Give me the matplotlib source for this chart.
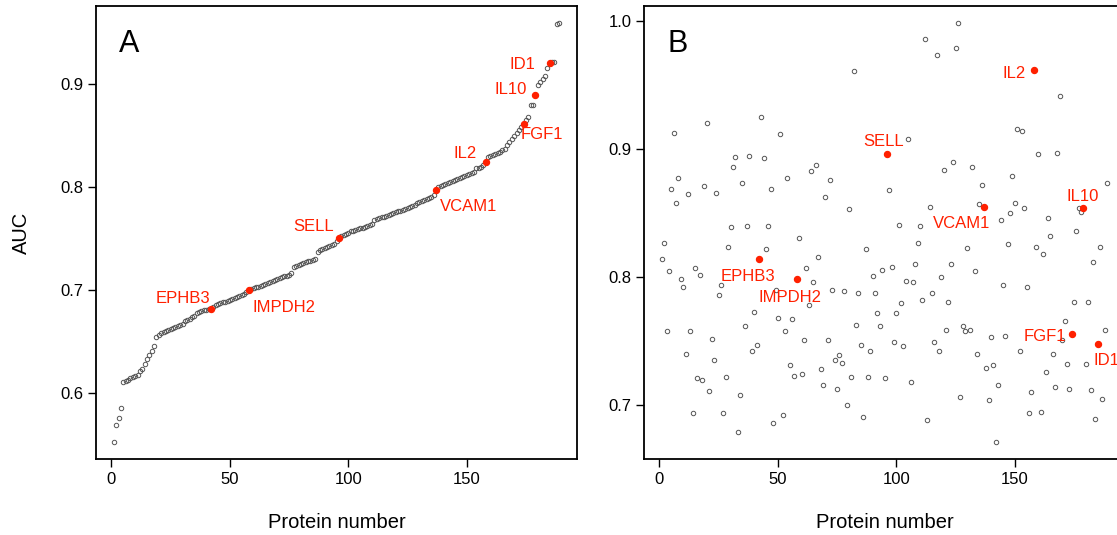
import matplotlib
matplotlib.use("Agg")
import matplotlib.pyplot as plt
import numpy as np

# AUC per protein, panel A sorted (rank order), panel B same proteins in the same order
auc_a = [
    0.552, 0.569, 0.576, 0.585, 0.611, 0.612, 0.613, 0.614, 0.615, 0.616,
    0.617, 0.621, 0.623, 0.628, 0.633, 0.637, 0.641, 0.646, 0.654, 0.656,
    0.658, 0.659, 0.660, 0.661, 0.662, 0.663, 0.664, 0.665, 0.666, 0.667,
    0.670, 0.671, 0.672, 0.674, 0.675, 0.678, 0.679, 0.680, 0.681, 0.681,
    0.682, 0.682, 0.684, 0.685, 0.686, 0.687, 0.688, 0.688, 0.689, 0.690,
    0.691, 0.692, 0.693, 0.694, 0.695, 0.696, 0.698, 0.700, 0.701, 0.702,
    0.703, 0.703, 0.704, 0.705, 0.706, 0.707, 0.708, 0.709, 0.710, 0.711,
    0.712, 0.713, 0.714, 0.714, 0.715, 0.717, 0.722, 0.723, 0.724, 0.725,
    0.726, 0.727, 0.728, 0.728, 0.729, 0.730, 0.737, 0.739, 0.740, 0.741,
    0.742, 0.743, 0.744, 0.745, 0.748, 0.751, 0.753, 0.754, 0.755, 0.756,
    0.757, 0.757, 0.758, 0.759, 0.760, 0.760, 0.761, 0.762, 0.763, 0.764,
    0.768, 0.769, 0.770, 0.771, 0.771, 0.772, 0.773, 0.774, 0.775, 0.776,
    0.777, 0.777, 0.778, 0.779, 0.780, 0.781, 0.782, 0.783, 0.785, 0.786,
    0.787, 0.788, 0.789, 0.790, 0.791, 0.792, 0.797, 0.800, 0.801, 0.802,
    0.803, 0.804, 0.805, 0.806, 0.807, 0.808, 0.809, 0.810, 0.811, 0.812,
    0.813, 0.814, 0.815, 0.819, 0.819, 0.820, 0.822, 0.825, 0.829, 0.830,
    0.831, 0.832, 0.833, 0.834, 0.836, 0.837, 0.841, 0.844, 0.847, 0.850,
    0.853, 0.856, 0.859, 0.862, 0.865, 0.868, 0.880, 0.880, 0.890, 0.899,
    0.902, 0.905, 0.908, 0.916, 0.921, 0.922, 0.922, 0.959, 0.960,
]

auc_b = [
    0.814, 0.827, 0.758, 0.805, 0.869, 0.913, 0.858, 0.878, 0.799, 0.792,
    0.740, 0.865, 0.758, 0.694, 0.807, 0.721, 0.802, 0.720, 0.871, 0.921,
    0.711, 0.752, 0.735, 0.866, 0.786, 0.794, 0.694, 0.722, 0.824, 0.839,
    0.886, 0.894, 0.679, 0.708, 0.874, 0.762, 0.840, 0.895, 0.742, 0.773,
    0.747, 0.814, 0.925, 0.893, 0.822, 0.840, 0.869, 0.686, 0.790, 0.768,
    0.912, 0.692, 0.758, 0.878, 0.731, 0.767, 0.723, 0.799, 0.831, 0.724,
    0.751, 0.807, 0.778, 0.883, 0.796, 0.888, 0.816, 0.728, 0.716, 0.863,
    0.751, 0.876, 0.790, 0.735, 0.713, 0.739, 0.733, 0.789, 0.700, 0.853,
    0.722, 0.961, 0.763, 0.788, 0.747, 0.691, 0.822, 0.722, 0.742, 0.801,
    0.788, 0.772, 0.762, 0.806, 0.721, 0.896, 0.868, 0.808, 0.749, 0.772,
    0.841, 0.780, 0.746, 0.797, 0.908, 0.718, 0.796, 0.810, 0.827, 0.840,
    0.782, 0.986, 0.688, 0.855, 0.788, 0.749, 0.974, 0.742, 0.800, 0.884,
    0.759, 0.781, 0.810, 0.890, 0.979, 0.999, 0.706, 0.762, 0.758, 0.823,
    0.759, 0.886, 0.805, 0.740, 0.857, 0.872, 0.855, 0.729, 0.704, 0.753,
    0.731, 0.671, 0.716, 0.845, 0.794, 0.754, 0.826, 0.850, 0.879, 0.858,
    0.916, 0.742, 0.914, 0.854, 0.792, 0.694, 0.710, 0.962, 0.824, 0.896,
    0.695, 0.818, 0.726, 0.846, 0.832, 0.740, 0.714, 0.897, 0.942, 0.751,
    0.766, 0.732, 0.713, 0.756, 0.781, 0.836, 0.854, 0.851, 0.854, 0.732,
    0.781, 0.712, 0.812, 0.689, 0.748, 0.824, 0.705, 0.759, 0.874,
]

hl_names = ["EPHB3", "IMPDH2", "SELL", "VCAM1", "IL2", "FGF1", "IL10", "ID1"]
hl_rank = [42, 58, 96, 137, 158, 174, 179, 185]

# label placement: (dx px, dy px, ha) relative to the red dot, baseline aligned
lab_a = {"EPHB3": (-1, 6, "right"), "IMPDH2": (4, -22, "left"),
         "SELL": (-5, 7, "right"), "VCAM1": (4, -21, "left"),
         "IL2": (-9, 4, "right"), "FGF1": (-3, -15, "left"),
         "IL10": (-9, 1, "right"), "ID1": (-14, -6, "right")}
lab_b = {"EPHB3": (-11, -22, "center"), "IMPDH2": (-7, -23, "center"),
         "SELL": (-3, 8, "center"), "VCAM1": (6, -21, "right"),
         "IL2": (-8, -8, "right"), "FGF1": (-6, -7, "right"),
         "IL10": (-1, 7, "center"), "ID1": (-4, -21, "left")}

plt.rcParams["font.family"] = ["Liberation Sans", "DejaVu Sans"]
RED = "#ff2000"
W, H = 1117, 535

fig = plt.figure(figsize=(W / 100, H / 100), dpi=100)


def box(left, top, right, bottom):
    return fig.add_axes([left / W, 1 - bottom / H, (right - left) / W, (bottom - top) / H])


def panel(ax, vals, labels, letter, yticks):
    n = len(vals)
    x = np.arange(1, n + 1)
    v = np.array(vals)
    ax.plot(x, v, "o", ms=3.2, mfc="none", mec="#555555", mew=0.7, ls="none")
    for name, r in zip(hl_names, hl_rank):
        ax.plot(r, v[r - 1], "o", ms=4.3, color=RED, mec=RED)
        dx, dy, ha = labels[name]
        ax.annotate(name, (r, v[r - 1]), xytext=(dx, dy), textcoords="offset pixels",
                    ha=ha, va="baseline", color=RED, fontsize=12)
    # R-style 4% padding around the data range
    ax.set_xlim(1 - 0.04 * (n - 1), n + 0.04 * (n - 1))
    rng = v.max() - v.min()
    ax.set_ylim(v.min() - 0.04 * rng, v.max() + 0.04 * rng)
    ax.set_xticks([0, 50, 100, 150])
    ax.set_yticks(yticks)
    ax.set_yticklabels([f"{t:.1f}" for t in yticks])
    ax.tick_params(direction="out", length=5.5, width=1.0, labelsize=12, pad=3.5,
                   top=False, right=False)
    for s in ax.spines.values():
        s.set_linewidth(1.3)
    ax.set_xlabel("Protein number", fontsize=14.5, labelpad=19)
    ax.annotate(letter, (0, 1), xycoords="axes fraction", xytext=(23, -46),
                textcoords="offset pixels", ha="left", va="baseline", fontsize=22)


ax_a = box(96, 6, 577, 459)
panel(ax_a, auc_a, lab_a, "A", [0.6, 0.7, 0.8, 0.9])
ax_a.set_ylabel("AUC", fontsize=14.5, labelpad=21)

ax_b = box(644, 6, 1125, 459)
panel(ax_b, auc_b, lab_b, "B", [0.7, 0.8, 0.9, 1.0])

fig.savefig("out.png", dpi=100)
